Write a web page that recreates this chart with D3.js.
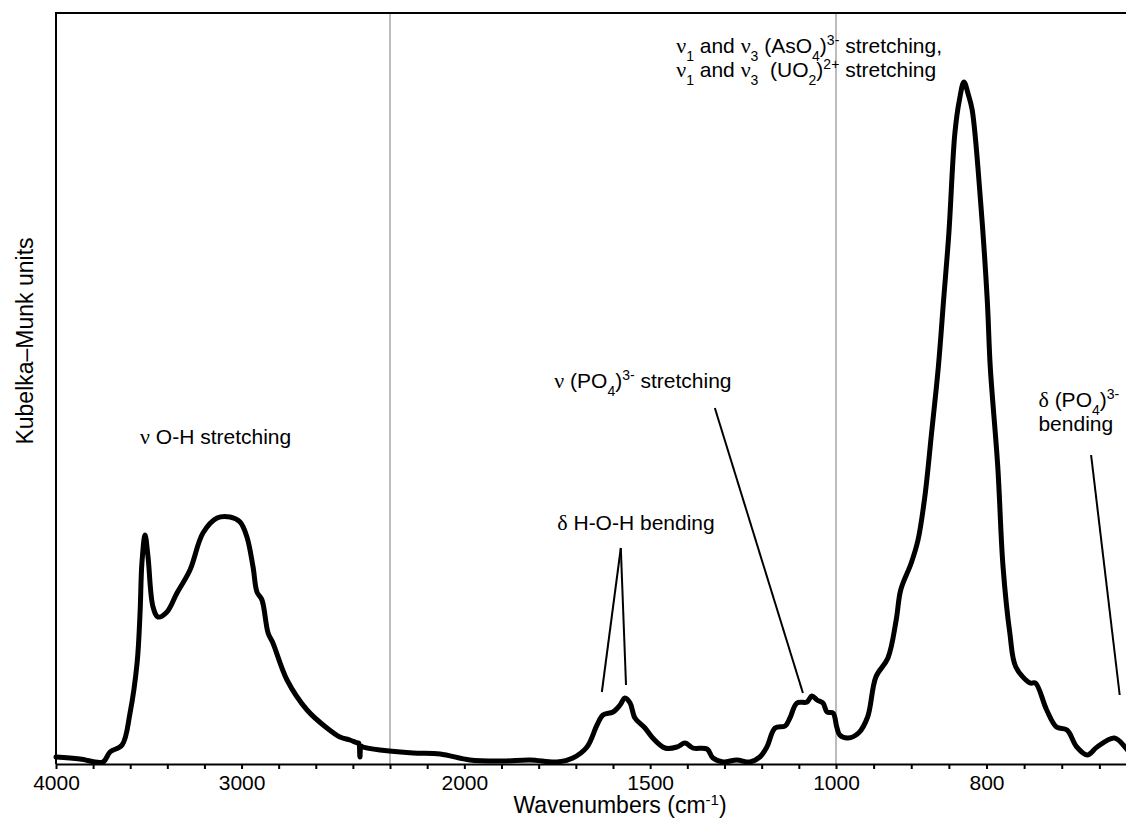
<!DOCTYPE html>
<html>
<head>
<meta charset="utf-8">
<script src="https://cdnjs.cloudflare.com/ajax/libs/d3/7.8.5/d3.min.js"></script>
<style>
  body { margin: 0; background: #fff; }
  text { font-family: "Liberation Sans", Arial, sans-serif; fill: #000; }
  .greek { font-family: "Liberation Serif", "Times New Roman", serif; }
</style>
</head>
<body>
<script>

// spectrum (cm-1 / Kubelka-Munk units)
var wavenumbers = [4000, 3871, 3747, 3709, 3644, 3601, 3563, 3547, 3537, 3520, 3504, 3477, 3450, 3402, 3348, 3278,
  3208, 3132, 3062, 3008, 2971, 2938, 2917, 2890, 2857, 2831, 2755, 2647, 2540, 2470, 2416, 2373, 2368, 2362, 2356,
  2346, 2254, 2138, 2065, 1985, 1896, 1823, 1751, 1708, 1670, 1643, 1627, 1600, 1581, 1568, 1554, 1541, 1514, 1493,
  1460, 1428, 1406, 1385, 1347, 1331, 1304, 1267, 1232, 1205, 1186, 1164, 1137, 1124, 1105, 1078, 1065, 1051, 1035,
  1024, 1008, 999, 995, 984, 970, 958, 947, 931, 920, 914, 900, 891, 882, 873, 864, 857, 850, 842, 836, 830, 824,
  819, 808, 799, 795, 785, 778, 769, 761, 742, 735, 720, 707, 693, 680, 666, 653, 630, 616, 608];

var kmUnits = [0.07, 0.05, 0.02, 0.12, 0.19, 0.51, 1.01, 1.51, 2.01, 2.29, 2.07, 1.57, 1.47, 1.52, 1.71, 1.94,
  2.31, 2.46, 2.47, 2.42, 2.27, 1.97, 1.72, 1.64, 1.31, 1.21, 0.84, 0.54, 0.36, 0.27, 0.24, 0.21, 0.21, 0.07, 0.18,
  0.17, 0.14, 0.11, 0.10, 0.04, 0.03, 0.04, 0.02, 0.06, 0.17, 0.39, 0.49, 0.52, 0.59, 0.66, 0.61, 0.46, 0.36, 0.26,
  0.16, 0.17, 0.21, 0.16, 0.15, 0.06, 0.02, 0.04, 0.02, 0.07, 0.17, 0.36, 0.38, 0.46, 0.61, 0.62, 0.68, 0.64, 0.61,
  0.52, 0.51, 0.37, 0.29, 0.26, 0.31, 0.47, 0.87, 1.06, 1.44, 1.74, 2.01, 2.24, 2.67, 3.31, 3.97, 4.64, 5.31, 6.31, 6.64, 6.82, 6.69,
  6.54, 5.64, 4.64, 3.97, 2.97, 1.97, 1.31, 0.97, 0.81, 0.81, 0.54, 0.37, 0.34, 0.17, 0.09, 0.17, 0.26, 0.17, 0.09];

// x axis is broken into three linear pieces
var xBreaks = [4000, 2200, 1000, 600];
var gridLines = [2200, 1000];

var tickValues = [4000, 3800, 3600, 3400, 3200, 3000, 2800, 2600, 2400, 2200,
  2100, 2000, 1900, 1800, 1700, 1600, 1500, 1400, 1300, 1200, 1100, 1000,
  950, 900, 850, 800, 750, 700, 650, 600];
var tickLabels = [4000, 3000, 2000, 1500, 1000, 800];

// label parts: [text, kind]  kind: n normal, g greek, sub, sup
var annotations = [
  { w: 3547, v: 3.20, lines: [[["ν", "g"], [" O-H stretching", "n"]]] },
  { w: 1750, v: 2.34, lines: [[["δ", "g"], [" H-O-H bending", "n"]]] },
  { w: 1758, v: 3.76, lines: [[["ν", "g"], [" (PO", "n"], ["4", "sub"], [")", "n"], ["3-", "sup"], [" stretching", "n"]]] },
  { w: 1430, v: 7.11, lines: [
      [["ν", "g"], ["1", "sub"], [" and ", "n"], ["ν", "g"], ["3", "sub"], [" (AsO", "n"], ["4", "sub"], [")", "n"], ["3-", "sup"], [" stretching,", "n"]],
      [["ν", "g"], ["1", "sub"], [" and ", "n"], ["ν", "g"], ["3", "sub"], ["  (UO", "n"], ["2", "sub"], [")", "n"], ["2+", "sup"], [" stretching", "n"]]
  ] },
  { w: 731, v: 3.57, lines: [[["δ", "g"], [" (PO", "n"], ["4", "sub"], [")", "n"], ["3-", "sup"]], [["bending", "n"]]] }
];

// leader lines [w1, v1, w2, v2]
var leaders = [
  [1579, 2.16, 1630, 0.72],
  [1579, 2.16, 1565, 0.79],
  [1326, 3.56, 1089, 0.71],
  [661, 3.09, 623, 0.69]
];

var width = 1126, height = 818;
var plotLeft = 56, plotTop = 13, plotBottom = 764;

var svg = d3.select("body").append("svg")
    .attr("width", width)
    .attr("height", height);

var x = d3.scaleLinear()
    .domain(xBreaks)
    .range([plotLeft, 390, 836, 1137]);

var y = d3.scaleLinear()
    .domain([0, 7.51])
    .range([plotBottom, plotTop]);

// grey break lines
svg.selectAll(".grid")
    .data(gridLines)
    .enter()
    .append("line")
    .attr("x1", function(d){ return x(d); })
    .attr("x2", function(d){ return x(d); })
    .attr("y1", plotTop)
    .attr("y2", plotBottom)
    .style("stroke", "#a6a6a6")
    .style("stroke-width", 1.5);

// frame: top and left
svg.append("line")
    .attr("x1", plotLeft).attr("x2", x(600))
    .attr("y1", plotTop).attr("y2", plotTop)
    .style("stroke", "#000").style("stroke-width", 2);
svg.append("line")
    .attr("x1", plotLeft).attr("x2", plotLeft)
    .attr("y1", plotTop - 1).attr("y2", plotBottom)
    .style("stroke", "#000").style("stroke-width", 2);

var xAxis = d3.axisBottom(x)
    .tickValues(tickValues)
    .tickSizeInner(5)
    .tickSizeOuter(0)
    .tickPadding(6)
    .tickFormat(function(d){ return tickLabels.indexOf(d) >= 0 ? d : ""; });

var gx = svg.append("g")
    .attr("transform", "translate(0," + plotBottom + ")")
    .call(xAxis);
gx.select(".domain").style("stroke-width", 2);
gx.selectAll(".tick line").style("stroke-width", 2);
gx.selectAll(".tick text")
    .style("font-size", "21px")
    .style("font-family", "'Liberation Sans', Arial, sans-serif");

var xTitle = svg.append("text")
    .attr("x", 620)
    .attr("y", 813)
    .attr("text-anchor", "middle")
    .style("font-size", "23px");
xTitle.append("tspan").text("Wavenumbers (cm");
xTitle.append("tspan").text("-1").style("font-size", "15px").attr("baseline-shift", "super");
xTitle.append("tspan").text(")");

svg.append("text")
    .attr("transform", "translate(33,341) rotate(-90)")
    .attr("text-anchor", "middle")
    .style("font-size", "23px")
    .text("Kubelka\u2013Munk units");

// spectrum
var line = d3.line()
    .x(function(d){ return x(d[0]); })
    .y(function(d){ return y(d[1]); })
    .curve(d3.curveCatmullRom.alpha(0.5));

svg.append("path")
    .datum(d3.zip(wavenumbers, kmUnits))
    .attr("d", line)
    .style("fill", "none")
    .style("stroke", "#000")
    .style("stroke-width", 5)
    .style("stroke-linejoin", "round")
    .style("stroke-linecap", "round");

// leaders
svg.selectAll(".leader")
    .data(leaders)
    .enter()
    .append("line")
    .attr("x1", function(d){ return x(d[0]); })
    .attr("y1", function(d){ return y(d[1]); })
    .attr("x2", function(d){ return x(d[2]); })
    .attr("y2", function(d){ return y(d[3]); })
    .style("stroke", "#000")
    .style("stroke-width", 2);

// labels
annotations.forEach(function(a){
  a.lines.forEach(function(parts, i){
    var t = svg.append("text")
        .attr("x", x(a.w))
        .attr("y", y(a.v) + i * 24)
        .style("font-size", "21px")
        .attr("xml:space", "preserve")
        .style("white-space", "pre");
    parts.forEach(function(p){
      var s = t.append("tspan").text(p[0]);
      if (p[1] === "g") s.attr("class", "greek").style("font-size", "22px");
      if (p[1] === "sub") s.style("font-size", "14px").attr("baseline-shift", "sub");
      if (p[1] === "sup") s.style("font-size", "14px").attr("baseline-shift", "super");
    });
  });
});

</script>
</body>
</html>
